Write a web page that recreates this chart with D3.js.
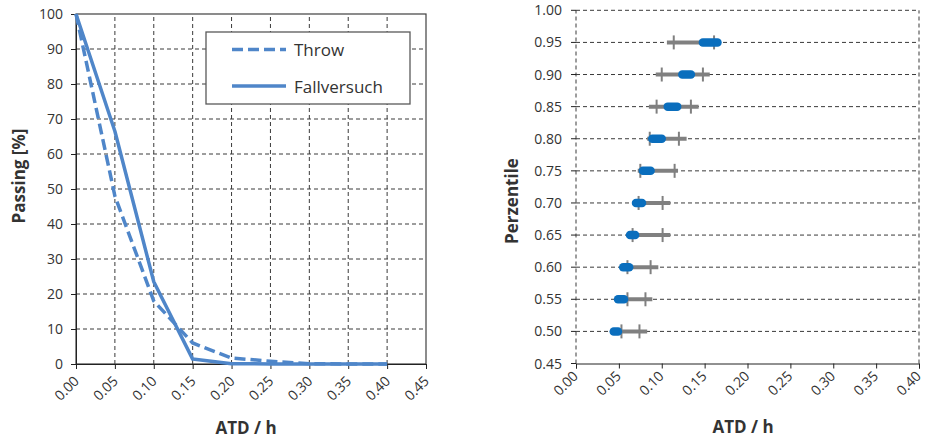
<!DOCTYPE html>
<html><head><meta charset="utf-8">
<script src="https://cdn.jsdelivr.net/npm/d3@7"></script>
<style>
body{margin:0;background:#fff;}
text{font-family:"Open Sans",sans-serif;fill:#333;}
</style></head>
<body><svg id="c" width="925" height="441"></svg>
<script>
// ---- Left chart data ----
const atd = [0.00, 0.05, 0.10, 0.15, 0.20, 0.25, 0.30, 0.35, 0.40];
const throwPassing = [100, 48, 18, 6, 1.7, 0.8, 0.1, 0, 0];
const fallPassing = [100, 66.5, 23.5, 1.4, 0.1, 0, 0, 0, 0];
const leftXTicks = [0,0.05,0.10,0.15,0.20,0.25,0.30,0.35,0.40,0.45];
const leftYTicks = [0,10,20,30,40,50,60,70,80,90,100];
const seriesNames = ["Throw", "Fallversuch"];

// ---- Right chart data ----
const percentiles = [0.50,0.55,0.60,0.65,0.70,0.75,0.80,0.85,0.90,0.95];
const greyLo  = [0.040,0.046,0.052,0.060,0.067,0.072,0.083,0.085,0.093,0.106];
const greyHi  = [0.083,0.089,0.096,0.110,0.110,0.119,0.129,0.143,0.156,0.163];
const tickLo  = [0.053,0.060,0.060,0.066,0.073,0.075,0.086,0.094,0.100,0.114];
const tickHi  = [0.074,0.081,0.087,0.101,0.101,0.115,0.120,0.134,0.148,0.161];
const blueLo  = [0.044,0.049,0.055,0.063,0.070,0.078,0.089,0.107,0.124,0.148];
const blueHi  = [0.049,0.056,0.062,0.069,0.077,0.087,0.100,0.118,0.134,0.165];
const rightXTicks = [0,0.05,0.10,0.15,0.20,0.25,0.30,0.35,0.40];
const rightYTicks = [0.45,0.50,0.55,0.60,0.65,0.70,0.75,0.80,0.85,0.90,0.95,1.00];

const svg = d3.select("#c");
const lineBlue = "#4F86C9";
const gridCol = "#3a3a3a";

// ===== LEFT CHART =====
const xL = d3.scaleLinear().domain([0,0.45]).range([76,426]);
const yL = d3.scaleLinear().domain([0,100]).range([364,14]);
const gL = svg.append("g");

// gridlines
gL.selectAll(".vg").data(leftXTicks.slice(1,-1)).enter().append("line")
  .attr("x1",d=>xL(d)).attr("x2",d=>xL(d)).attr("y1",yL(0)).attr("y2",yL(100))
  .attr("stroke",gridCol).attr("stroke-width",1).attr("stroke-dasharray","4,3");
gL.selectAll(".hg").data(leftYTicks.slice(1,-1)).enter().append("line")
  .attr("x1",xL(0)).attr("x2",xL(0.45)).attr("y1",d=>yL(d)).attr("y2",d=>yL(d))
  .attr("stroke",gridCol).attr("stroke-width",1).attr("stroke-dasharray","4,3");
// frame
gL.append("rect").attr("x",xL(0)).attr("y",yL(100)).attr("width",xL(0.45)-xL(0)).attr("height",yL(0)-yL(100))
  .attr("fill","none").attr("stroke","#404040").attr("stroke-width",1.2);

// axes
const axBL = d3.axisBottom(xL).tickValues(leftXTicks).tickSize(5).tickFormat(()=> "");
gL.append("g").attr("transform",`translate(0,${yL(0)})`).call(axBL)
  .call(g=>{g.select(".domain").attr("stroke","#222");g.selectAll("line").attr("stroke","#222");});
const axLL = d3.axisLeft(yL).tickValues(leftYTicks).tickSize(5).tickFormat(()=> "");
gL.append("g").attr("transform",`translate(${xL(0)},0)`).call(axLL)
  .call(g=>{g.select(".domain").attr("stroke","#222");g.selectAll("line").attr("stroke","#222");});

gL.selectAll(".yl").data(leftYTicks).enter().append("text")
  .attr("x",63).attr("y",d=>yL(d)+5).attr("text-anchor","end").attr("font-size",14).text(d=>d);
gL.selectAll(".xl").data(leftXTicks).enter().append("text")
  .attr("transform",d=>`translate(${xL(d)+4},${382}) rotate(-45)`)
  .attr("text-anchor","end").attr("font-size",14).text(d=>d3.format(".2f")(d));

// lines
const lineGen = d3.line().x((d,i)=>xL(atd[i])).y(d=>yL(d));
gL.append("path").datum(throwPassing).attr("d",lineGen).attr("fill","none")
  .attr("stroke",lineBlue).attr("stroke-width",3.5).attr("stroke-dasharray","11,5");
gL.append("path").datum(fallPassing).attr("d",lineGen).attr("fill","none")
  .attr("stroke",lineBlue).attr("stroke-width",3.5).attr("stroke-linejoin","round");

// legend
const lg = gL.append("g");
lg.append("rect").attr("x",206).attr("y",32).attr("width",204).attr("height",72)
  .attr("fill","#fff").attr("stroke","#595959").attr("stroke-width",1.3);
[49.5, 86].forEach((yy,i)=>{
  lg.append("line").attr("x1",232).attr("x2",286).attr("y1",yy).attr("y2",yy)
    .attr("stroke",lineBlue).attr("stroke-width",3.5)
    .attr("stroke-dasharray", i===0 ? "11,5" : null);
  lg.append("text").attr("x",294).attr("y",yy+6.5).attr("font-size",17).text(seriesNames[i]);
});

// titles
gL.append("text").attr("x",246).attr("y",434).attr("text-anchor","middle")
  .attr("font-size",17).attr("font-weight","bold").attr("fill","#222").text("ATD / h");
gL.append("text").attr("transform","translate(25,176) rotate(-90)").attr("text-anchor","middle")
  .attr("font-size",17).attr("font-weight","bold").attr("fill","#222").text("Passing [%]");

// ===== RIGHT CHART =====
const xR = d3.scaleLinear().domain([0,0.40]).range([576,919]);
const yR = d3.scaleLinear().domain([0.45,1.00]).range([363.5,10.3]);
const gR = svg.append("g");

gR.selectAll(".hg").data(rightYTicks.slice(1)).enter().append("line")
  .attr("x1",xR(0)).attr("x2",xR(0.40)).attr("y1",d=>yR(d)).attr("y2",d=>yR(d))
  .attr("stroke",gridCol).attr("stroke-width",1).attr("stroke-dasharray","4,3");
[0,0.40].forEach(v=>{
  gR.append("line").attr("x1",xR(v)).attr("x2",xR(v)).attr("y1",yR(0.45)).attr("y2",yR(1.0))
    .attr("stroke",gridCol).attr("stroke-width",1).attr("stroke-dasharray","4,3");
});
const axBR = d3.axisBottom(xR).tickValues(rightXTicks).tickSize(5).tickFormat(()=> "");
gR.append("g").attr("transform",`translate(0,${yR(0.45)})`).call(axBR)
  .call(g=>{g.select(".domain").attr("stroke","#222");g.selectAll("line").attr("stroke","#222");});
gR.selectAll(".yt").data(rightYTicks).enter().append("line")
  .attr("x1",xR(0)-5).attr("x2",xR(0)).attr("y1",d=>yR(d)).attr("y2",d=>yR(d))
  .attr("stroke","#222").attr("stroke-width",1);

gR.selectAll(".yl").data(rightYTicks).enter().append("text")
  .attr("x",562).attr("y",d=>yR(d)+5).attr("text-anchor","end").attr("font-size",14).text(d=>d3.format(".2f")(d));
gR.selectAll(".xl").data(rightXTicks).enter().append("text")
  .attr("transform",d=>`translate(${xR(d)+3},${377}) rotate(-45)`)
  .attr("text-anchor","end").attr("font-size",14).text(d=>d3.format(".2f")(d));

// grey ranges
gR.selectAll(".gr").data(percentiles).enter().append("line")
  .attr("x1",(d,i)=>xR(greyLo[i])).attr("x2",(d,i)=>xR(greyHi[i]))
  .attr("y1",d=>yR(d)).attr("y2",d=>yR(d))
  .attr("stroke","#808080").attr("stroke-width",4);
percentiles.forEach((p,i)=>{
  [tickLo[i],tickHi[i]].forEach(t=>{
    gR.append("line").attr("x1",xR(t)).attr("x2",xR(t)).attr("y1",yR(p)-7).attr("y2",yR(p)+7)
      .attr("stroke","#808080").attr("stroke-width",2);
  });
});
gR.selectAll(".bl").data(percentiles).enter().append("line")
  .attr("x1",(d,i)=>xR(blueLo[i])).attr("x2",(d,i)=>xR(blueHi[i]))
  .attr("y1",d=>yR(d)).attr("y2",d=>yR(d))
  .attr("stroke","#0A6EBD").attr("stroke-width",8.5).attr("stroke-linecap","round");

gR.append("text").attr("x",743).attr("y",433).attr("text-anchor","middle")
  .attr("font-size",17).attr("font-weight","bold").attr("fill","#222").text("ATD / h");
gR.append("text").attr("transform","translate(518,201) rotate(-90)").attr("text-anchor","middle")
  .attr("font-size",17).attr("font-weight","bold").attr("fill","#222").text("Perzentile");
</script></body></html>
